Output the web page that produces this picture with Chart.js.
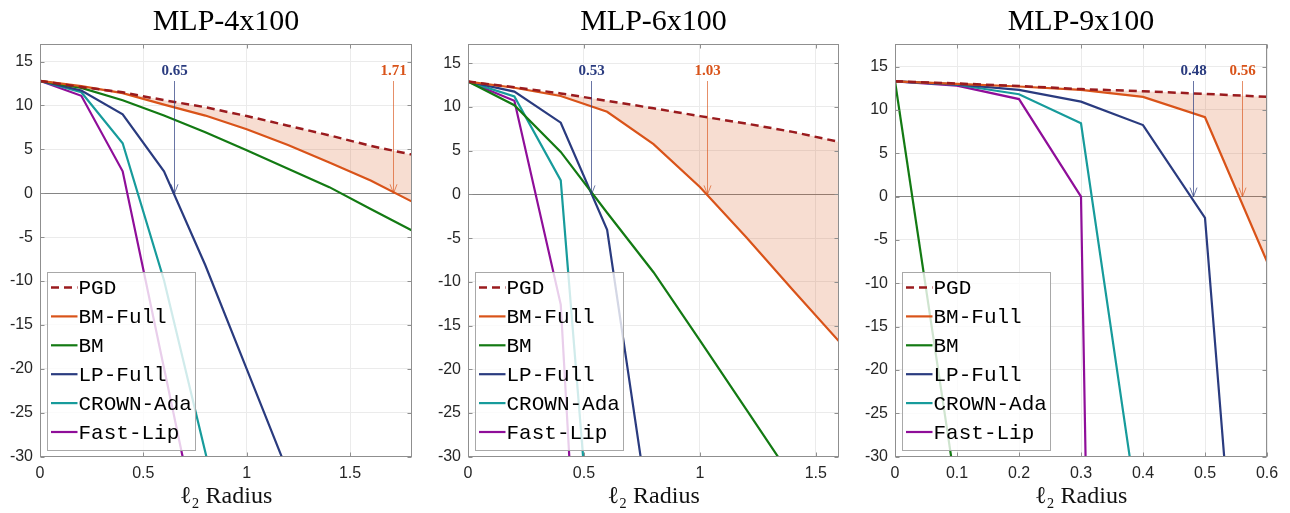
<!DOCTYPE html>
<html>
<head>
<meta charset="utf-8">
<script src="https://cdn.jsdelivr.net/npm/chart.js@4/dist/chart.umd.min.js"></script>
<style>
  html, body { margin: 0; padding: 0; background: #ffffff; }
  body { width: 1290px; height: 513px; position: relative; overflow: hidden; }
  .panel { position: absolute; top: 0; height: 513px; }
</style>
</head>
<body>
<div class="panel" style="left:0px;width:428px"><canvas id="c0" width="428" height="513"></canvas></div>
<div class="panel" style="left:428px;width:427px"><canvas id="c1" width="427" height="513"></canvas></div>
<div class="panel" style="left:855px;width:435px"><canvas id="c2" width="435" height="513"></canvas></div>
<script>
// ---------------- DATA ----------------
const titles = ['MLP-4x100', 'MLP-6x100', 'MLP-9x100'];
const seriesNames = ['PGD', 'BM-Full', 'BM', 'LP-Full', 'CROWN-Ada', 'Fast-Lip'];
const xAxisLabel = 'ℓ₂ Radius';

const yTickValues = [-30, -25, -20, -15, -10, -5, 0, 5, 10, 15];
const xTicks4 = [0, 0.5, 1, 1.5];
const xTicks6 = [0, 0.5, 1, 1.5];
const xTicks9 = [0, 0.1, 0.2, 0.3, 0.4, 0.5, 0.6];

// MLP-4x100
const r4 = [0, 0.2, 0.4, 0.6, 0.8, 1.0, 1.2, 1.4, 1.6, 1.8];
const pgd4 = [12.8, 12.1, 11.5, 10.6, 9.8, 8.8, 7.7, 6.6, 5.4, 4.4];
const bmFull4 = [12.8, 12.2, 11.4, 10.1, 8.85, 7.3, 5.5, 3.5, 1.45, -0.95];
const bm4 = [12.8, 12.0, 10.6, 8.85, 6.95, 4.9, 2.8, 0.7, -1.8, -4.25];
const lpFull4R = [0, 0.2, 0.4, 0.6, 0.8, 1.0, 1.2];
const lpFull4 = [12.8, 11.7, 9.0, 2.5, -8.2, -20.0, -31.8];
const crown4R = [0, 0.2, 0.4, 0.6, 0.8, 1.0];
const crown4 = [12.8, 11.5, 5.7, -9.9, -29.5, -49.0];
const fastLip4R = [0, 0.2, 0.4, 0.6, 0.8];
const fastLip4 = [12.8, 11.1, 2.5, -19.9, -42.3];
const certified4 = [0.65, 1.71];   // LP-Full, BM-Full

// MLP-6x100
const r6 = [0, 0.2, 0.4, 0.6, 0.8, 1.0, 1.2, 1.4, 1.6];
const pgd6 = [12.9, 12.25, 11.55, 10.7, 9.85, 8.95, 8.1, 7.15, 6.0];
const bmFull6 = [12.9, 12.2, 11.25, 9.45, 5.75, 0.85, -4.9, -10.9, -16.8];
const bm6R = [0, 0.2, 0.4, 0.6, 0.8, 1.0, 1.2, 1.4];
const bm6 = [12.9, 10.2, 4.86, -2.1, -8.9, -16.7, -24.6, -32.5];
const lpFull6R = [0, 0.2, 0.4, 0.6, 0.8];
const lpFull6 = [12.9, 11.75, 8.2, -4.05, -40.0];
const crown6R = [0, 0.2, 0.4, 0.6];
const crown6 = [12.9, 11.2, 1.6, -64.0];
const fastLip6R = [0, 0.2, 0.4, 0.6];
const fastLip6 = [12.9, 10.7, -12.6, -107.0];
const certified6 = [0.53, 1.03];

// MLP-9x100
const r9 = [0, 0.1, 0.2, 0.3, 0.4, 0.5, 0.6];
const pgd9 = [13.3, 13.05, 12.75, 12.4, 12.15, 11.85, 11.5];
const bmFull9 = [13.3, 13.0, 12.7, 12.3, 11.5, 9.15, -7.5];
const bm9R = [0, 0.1];
const bm9 = [13.3, -34.5];
const lpFull9 = [13.3, 12.95, 12.3, 10.95, 8.25, -2.45, -91.5];
const crown9R = [0, 0.1, 0.2, 0.3, 0.4];
const crown9 = [13.3, 12.9, 11.8, 8.45, -40.5];
const fastLip9R = [0, 0.1, 0.2, 0.3, 0.4];
const fastLip9 = [13.3, 12.8, 11.25, 0.0, -408.0];
const certified9 = [0.48, 0.56];

// ---------------- STYLE ----------------
const colors = ['#9A1B1E', '#D95319', '#137A13', '#2A3B7F', '#179B9B', '#8F0E99'];
const arrowLineColors = ['rgba(42,59,127,0.7)', 'rgba(217,83,25,0.65)'];
const arrowTextColors = ['#2A3B7F', '#D95319'];

const panels = [
  { title: titles[0], xMax: 1.8, yMax: 17.0, xTicks: xTicks4, padRight: 16,
    series: [[r4, pgd4], [r4, bmFull4], [r4, bm4], [lpFull4R, lpFull4], [crown4R, crown4], [fastLip4R, fastLip4]],
    marks: certified4 },
  { title: titles[1], xMax: 1.6, yMax: 17.2, xTicks: xTicks6, padRight: 16,
    series: [[r6, pgd6], [r6, bmFull6], [bm6R, bm6], [lpFull6R, lpFull6], [crown6R, crown6], [fastLip6R, fastLip6]],
    marks: certified6 },
  { title: titles[2], xMax: 0.6, yMax: 17.6, xTicks: xTicks9, padRight: 23,
    series: [[r9, pgd9], [r9, bmFull9], [bm9R, bm9], [r9, lpFull9], [crown9R, crown9], [fastLip9R, fastLip9]],
    marks: certified9 }
];

const framePlugin = {
  id: 'frame',
  afterDatasetsDraw(chart, args, opts) {
    const { ctx, chartArea: a, scales } = chart;
    const xs = scales.x, ys = scales.y;
    ctx.save();
    // title centred over the plot box
    ctx.fillStyle = '#000';
    ctx.font = '30px "Liberation Serif", serif';
    ctx.textAlign = 'center';
    ctx.textBaseline = 'alphabetic';
    ctx.fillText(opts.title, (a.left + a.right) / 2, 29.5);
    // certified radius arrows
    opts.marks.forEach((v, i) => {
      const px = Math.round(xs.getPixelForValue(v)) + 0.5;
      const p0 = ys.getPixelForValue(0);
      const top = a.top + 37;
      ctx.strokeStyle = arrowLineColors[i];
      ctx.lineWidth = 1;
      ctx.setLineDash([]);
      ctx.beginPath();
      ctx.moveTo(px, top);
      ctx.lineTo(px, p0);
      ctx.moveTo(px - 3.5, p0 - 9);
      ctx.lineTo(px, p0);
      ctx.lineTo(px + 3.5, p0 - 9);
      ctx.stroke();
      ctx.fillStyle = arrowTextColors[i];
      ctx.font = 'bold 15px "Liberation Serif", serif';
      ctx.textAlign = 'center';
      ctx.textBaseline = 'middle';
      ctx.fillText(v.toFixed(2), px, a.top + 27);
    });
    // legend box
    const bx = Math.round(a.left + 6.7) + 0.5;
    const by = Math.round(a.bottom - 185) + 0.5;
    const bw = 148, bh = 178;
    ctx.fillStyle = 'rgba(255,255,255,0.8)';
    ctx.fillRect(bx, by, bw, bh);
    ctx.strokeStyle = '#a8a8a8';
    ctx.lineWidth = 1;
    ctx.strokeRect(bx, by, bw, bh);
    chart.data.datasets.forEach((ds, i) => {
      const yy = by + 15 + i * 28.9;
      ctx.strokeStyle = ds.borderColor;
      ctx.lineWidth = ds.borderWidth;
      ctx.setLineDash(ds.borderDash || []);
      ctx.beginPath();
      ctx.moveTo(bx + 3.5, yy);
      ctx.lineTo(bx + 30, yy);
      ctx.stroke();
      ctx.setLineDash([]);
      ctx.fillStyle = '#000';
      ctx.font = '21px "Liberation Mono", monospace';
      ctx.textAlign = 'left';
      ctx.textBaseline = 'middle';
      ctx.fillText(ds.label, bx + 31, yy + 1);
    });
    // axes box and inward ticks
    const L = Math.round(a.left) + 0.5, R = Math.round(a.right) - 0.5;
    const T = Math.round(a.top) + 0.5, B = Math.round(a.bottom) - 0.5;
    ctx.strokeStyle = '#8f8f8f';
    ctx.lineWidth = 1;
    ctx.strokeRect(L, T, R - L, B - T);
    ctx.beginPath();
    ys.ticks.forEach(t => {
      const py = Math.round(ys.getPixelForValue(t.value)) + 0.5;
      ctx.moveTo(L, py); ctx.lineTo(L + 4, py);
      ctx.moveTo(R, py); ctx.lineTo(R - 4, py);
    });
    xs.ticks.forEach(t => {
      const px = Math.round(xs.getPixelForValue(t.value)) + 0.5;
      ctx.moveTo(px, B); ctx.lineTo(px, B - 4);
      ctx.moveTo(px, T); ctx.lineTo(px, T + 4);
    });
    ctx.stroke();
    ctx.restore();
  }
};

panels.forEach((p, k) => {
  const datasets = p.series.map((s, i) => ({
    label: seriesNames[i],
    data: s[0].map((x, j) => ({ x: x, y: s[1][j] })),
    borderColor: colors[i],
    backgroundColor: i === 1 ? 'rgba(217,83,25,0.2)' : colors[i],
    borderWidth: i === 0 ? 2.5 : 2.2,
    borderDash: i === 0 ? [8, 5] : [],
    fill: i === 1 ? 0 : false,
    pointRadius: 0,
    tension: 0
  }));
  new Chart(document.getElementById('c' + k), {
    type: 'line',
    data: { datasets },
    plugins: [framePlugin],
    options: {
      responsive: false,
      animation: false,
      layout: { padding: { left: 0, right: p.padRight, top: 44, bottom: 0 } },
      plugins: {
        legend: { display: false },
        tooltip: { enabled: false },
        filler: { drawTime: 'beforeDatasetsDraw' },
        title: { display: false },
        frame: { marks: p.marks, title: p.title }
      },
      scales: {
        x: {
          type: 'linear', min: 0, max: p.xMax,
          afterBuildTicks: sc => { sc.ticks = p.xTicks.map(v => ({ value: v })); },
          afterFit: sc => { sc.height = 56.3; },
          border: { display: false },
          grid: { color: '#ebebeb', drawTicks: false, lineWidth: 1 },
          ticks: { color: '#262626', padding: 7, maxRotation: 0,
                   font: { family: '"Liberation Sans", sans-serif', size: 16 },
                   callback: v => String(v) },
          title: { display: true, text: xAxisLabel, color: '#111',
                   font: { family: '"Liberation Serif", serif', size: 24 },
                   padding: { top: 0, bottom: 2 } }
        },
        y: {
          type: 'linear', min: -30, max: p.yMax,
          afterBuildTicks: sc => { sc.ticks = yTickValues.map(v => ({ value: v })); },
          afterFit: sc => { sc.width = 40; },
          border: { display: false },
          grid: { color: c => (c.tick && c.tick.value === 0) ? '#858585' : '#ebebeb',
                  drawTicks: false, lineWidth: 1 },
          ticks: { color: '#262626', padding: 7,
                   font: { family: '"Liberation Sans", sans-serif', size: 16 },
                   callback: v => String(v) }
        }
      }
    }
  });
});
</script>
</body>
</html>
